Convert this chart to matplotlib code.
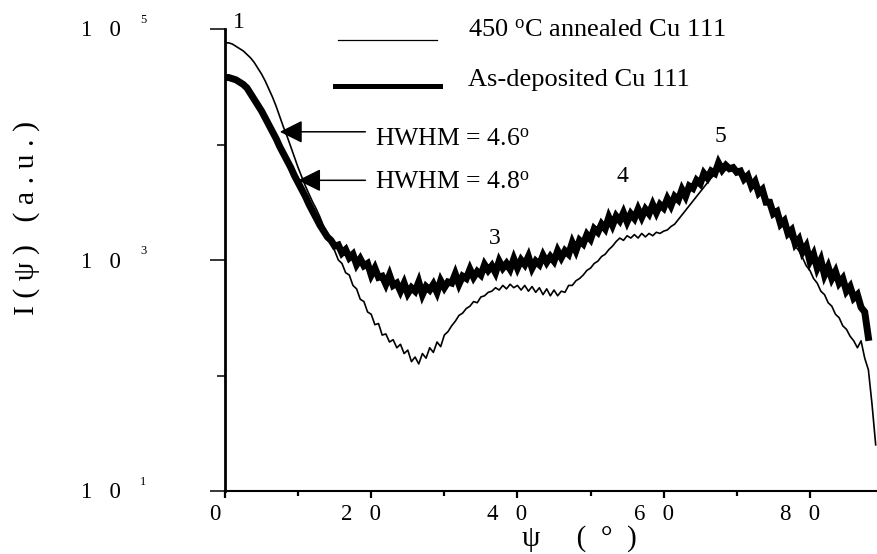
import numpy as np
import matplotlib
matplotlib.use("Agg")
import matplotlib.pyplot as plt
from matplotlib import transforms
from matplotlib.patches import FancyArrowPatch
from matplotlib.lines import Line2D
from matplotlib.ticker import FixedLocator, NullFormatter

plt.rcParams['font.family'] = ['Liberation Serif', 'DejaVu Serif']
plt.rcParams['mathtext.fontset'] = 'custom'
plt.rcParams['mathtext.rm'] = 'Liberation Serif'
plt.rcParams['mathtext.it'] = 'Liberation Serif:italic'

# ---- data (log10 of intensity, read every 0.5 deg of psi) ----
psi_step = 0.5
annealed_log10 = [
    4.88, 4.88, 4.87, 4.85, 4.83, 4.81, 4.78, 4.75, 4.71, 4.66,
    4.61, 4.55, 4.48, 4.41, 4.33, 4.24, 4.15, 4.07, 3.98, 3.89,
    3.80, 3.72, 3.64, 3.57, 3.50, 3.44, 3.37, 3.29, 3.22, 3.15,
    3.08, 3.00, 2.97, 2.89, 2.87, 2.78, 2.75, 2.66, 2.64, 2.55,
    2.53, 2.44, 2.45, 2.35, 2.36, 2.29, 2.31, 2.24, 2.27, 2.19,
    2.22, 2.12, 2.16, 2.10, 2.19, 2.15, 2.24, 2.20, 2.29, 2.25,
    2.35, 2.38, 2.43, 2.47, 2.52, 2.54, 2.58, 2.60, 2.64, 2.63,
    2.68, 2.69, 2.72, 2.73, 2.76, 2.74, 2.78, 2.75, 2.79, 2.76,
    2.78, 2.74, 2.78, 2.73, 2.77, 2.72, 2.76, 2.70, 2.75, 2.69,
    2.74, 2.69, 2.73, 2.72, 2.78, 2.78, 2.82, 2.84, 2.87, 2.91,
    2.93, 2.97, 2.99, 3.03, 3.05, 3.09, 3.12, 3.16, 3.19, 3.17,
    3.21, 3.19, 3.22, 3.19, 3.23, 3.20, 3.23, 3.21, 3.24, 3.23,
    3.25, 3.26, 3.29, 3.31, 3.35, 3.39, 3.43, 3.47, 3.51, 3.55,
    3.59, 3.63, 3.67, 3.71, 3.74, 3.77, 3.79, 3.80, 3.80, 3.80,
    3.78, 3.76, 3.74, 3.72, 3.69, 3.65, 3.60, 3.56, 3.51, 3.47,
    3.42, 3.38, 3.33, 3.28, 3.23, 3.17, 3.12, 3.08, 3.02, 2.95,
    2.91, 2.84, 2.80, 2.73, 2.70, 2.63, 2.60, 2.53, 2.50, 2.43,
    2.40, 2.34, 2.30, 2.24, 2.30, 2.15, 2.05, 1.75, 1.40,
]
as_deposited_log10 = [
    4.58, 4.58, 4.57, 4.56, 4.54, 4.52, 4.49, 4.44, 4.39, 4.34,
    4.29, 4.23, 4.17, 4.11, 4.05, 3.98, 3.92, 3.86, 3.80, 3.73,
    3.67, 3.61, 3.55, 3.48, 3.42, 3.36, 3.30, 3.25, 3.20, 3.17,
    3.12, 3.13, 3.06, 3.09, 3.02, 3.05, 2.96, 3.01, 2.95, 2.97,
    2.87, 2.93, 2.85, 2.86, 2.79, 2.87, 2.78, 2.80, 2.73, 2.80,
    2.71, 2.76, 2.73, 2.81, 2.70, 2.77, 2.74, 2.79, 2.72, 2.82,
    2.76, 2.81, 2.80, 2.88, 2.79, 2.86, 2.84, 2.92, 2.85, 2.90,
    2.87, 2.96, 2.91, 2.95, 2.89, 2.99, 2.93, 2.97, 2.92, 3.01,
    2.93, 3.00, 2.96, 3.03, 2.93, 2.99, 2.96, 3.04, 2.98, 3.03,
    2.99, 3.08, 3.02, 3.08, 3.05, 3.15, 3.08, 3.17, 3.14, 3.22,
    3.18, 3.27, 3.24, 3.31, 3.27, 3.37, 3.30, 3.38, 3.34, 3.41,
    3.33, 3.40, 3.36, 3.44, 3.37, 3.44, 3.40, 3.48, 3.41, 3.48,
    3.45, 3.53, 3.47, 3.55, 3.52, 3.61, 3.55, 3.64, 3.62, 3.69,
    3.66, 3.75, 3.71, 3.77, 3.75, 3.84, 3.78, 3.82, 3.79, 3.80,
    3.76, 3.77, 3.70, 3.73, 3.64, 3.68, 3.58, 3.61, 3.50, 3.50,
    3.40, 3.42, 3.31, 3.34, 3.23, 3.26, 3.14, 3.18, 3.07, 3.12,
    2.99, 3.05, 2.93, 3.00, 2.87, 2.94, 2.84, 2.90, 2.80, 2.84,
    2.73, 2.77, 2.67, 2.70, 2.59, 2.55, 2.33,
]

x_ticks = [0, 20, 40, 60, 80]
x_tick_labels = ["0", "2   0", "4   0", "6   0", "8   0"]
x_minor = [10, 30, 50, 70, 90]
y_major = [1e1, 1e3, 1e5]
y_minor = [1e2, 1e4]
y_exponents = ["1", "3", "5"]

legend_labels = ["450 $^{\\mathrm{o}}$C annealed Cu 111", "As-deposited Cu 111"]
hwhm_labels = ["HWHM = 4.6$^{\\mathrm{o}}$", "HWHM = 4.8$^{\\mathrm{o}}$"]
# arrow tips (psi, intensity) and tail psi
hwhm_tips = [(7.5, 10 ** 4.11), (10.0, 10 ** 3.69)]
hwhm_tail_psi = 19.2
peak_labels = ["1", "3", "4", "5"]
peak_pos = [(1.9, 10 ** 5.06), (36.9, 10 ** 3.19), (54.4, 10 ** 3.72), (67.7, 10 ** 4.065)]

psi_ann = psi_step * np.arange(len(annealed_log10))
psi_dep = psi_step * np.arange(len(as_deposited_log10))
I_ann = 10 ** np.array(annealed_log10)
I_dep = 10 ** np.array(as_deposited_log10)

W, H = 878, 554
fig = plt.figure(figsize=(W / 100, H / 100), dpi=100)
ax = fig.add_axes([225 / W, (H - 491) / H, (883 - 225) / W, (491 - 29) / H])
ax.set_yscale('log')
ax.set_xlim(0, 90)
ax.set_ylim(1e1, 1e5)

ax.plot(psi_dep, I_dep, color='black', lw=5.0, solid_joinstyle='miter')
ax.plot(psi_ann, I_ann, color='black', lw=1.2)

for s in ['top', 'right']:
    ax.spines[s].set_visible(False)
ax.spines['left'].set_linewidth(2.0)
ax.spines['bottom'].set_linewidth(1.5)

ax.yaxis.set_major_locator(FixedLocator(y_major))
ax.yaxis.set_minor_locator(FixedLocator(y_minor))
ax.yaxis.set_major_formatter(NullFormatter())
ax.yaxis.set_minor_formatter(NullFormatter())
ax.tick_params(axis='y', which='major', length=10.8, width=1.1, direction='out')
ax.tick_params(axis='y', which='minor', length=5.8, width=1.1, direction='out')

ax.set_xticks(x_ticks)
ax.set_xticklabels(x_tick_labels, fontsize=16.5)
ax.set_xticks(x_minor, minor=True)
ax.tick_params(axis='x', which='major', length=5, width=1.6, direction='out', pad=4)
ax.tick_params(axis='x', which='minor', length=3.5, width=1.6, direction='out')
off = transforms.ScaledTranslation(-10 / 100, 0, fig.dpi_scale_trans)
for lab in ax.get_xticklabels():
    lab.set_transform(lab.get_transform() + off)

# y tick labels: "1   0" with superscript exponent
ytrans = transforms.blended_transform_factory(fig.transFigure, ax.transData)
for val, ex in zip(y_major, y_exponents):
    t1 = transforms.offset_copy(ytrans, fig=fig, x=0, y=-7.5, units='dots')
    ax.text(121 / W, val, "1   0", transform=t1, ha='right', va='baseline',
            fontsize=16.5, clip_on=False)
    t2 = transforms.offset_copy(ytrans, fig=fig, x=0, y=6, units='dots')
    ax.text(140 / W, val, ex, transform=t2, ha='left', va='baseline',
            fontsize=9, clip_on=False)

# axis titles
fig.text(27 / W, 1 - 218 / H, "I ( ψ )   ( a . u . )", rotation=90,
         ha='center', va='center', fontsize=21.5)
fig.text(579 / W, 1 - 539 / H, "ψ     (  °  )", ha='center', va='center', fontsize=21)

# legend drawn as lines + text
fig.add_artist(Line2D([338 / W, 437 / W], [1 - 40 / H, 1 - 40 / H], color='black', lw=0.9))
fig.add_artist(Line2D([335 / W, 440 / W], [1 - 86 / H, 1 - 86 / H], color='black', lw=3.6))
fig.text(468 / W, 1 - 37 / H, legend_labels[0], ha='left', va='baseline', fontsize=19)
fig.text(468 / W, 1 - 86 / H, legend_labels[1], ha='left', va='baseline', fontsize=19)

# HWHM annotations
for (tp, ti), lab, base in zip(hwhm_tips, hwhm_labels, [146, 189]):
    arr = FancyArrowPatch((hwhm_tail_psi, ti), (tp, ti), transform=ax.transData,
                          arrowstyle='-|>,head_length=14,head_width=7',
                          mutation_scale=1, shrinkA=0, shrinkB=0,
                          color='black', lw=1.1, clip_on=False)
    ax.add_patch(arr)
    fig.text(375 / W, 1 - base / H, lab, ha='left', va='baseline', fontsize=18.5)

for lab, (px, py) in zip(peak_labels, peak_pos):
    ax.text(px, py, lab, ha='center', va='center', fontsize=17, clip_on=False)

fig.savefig("out.png", dpi=100)
